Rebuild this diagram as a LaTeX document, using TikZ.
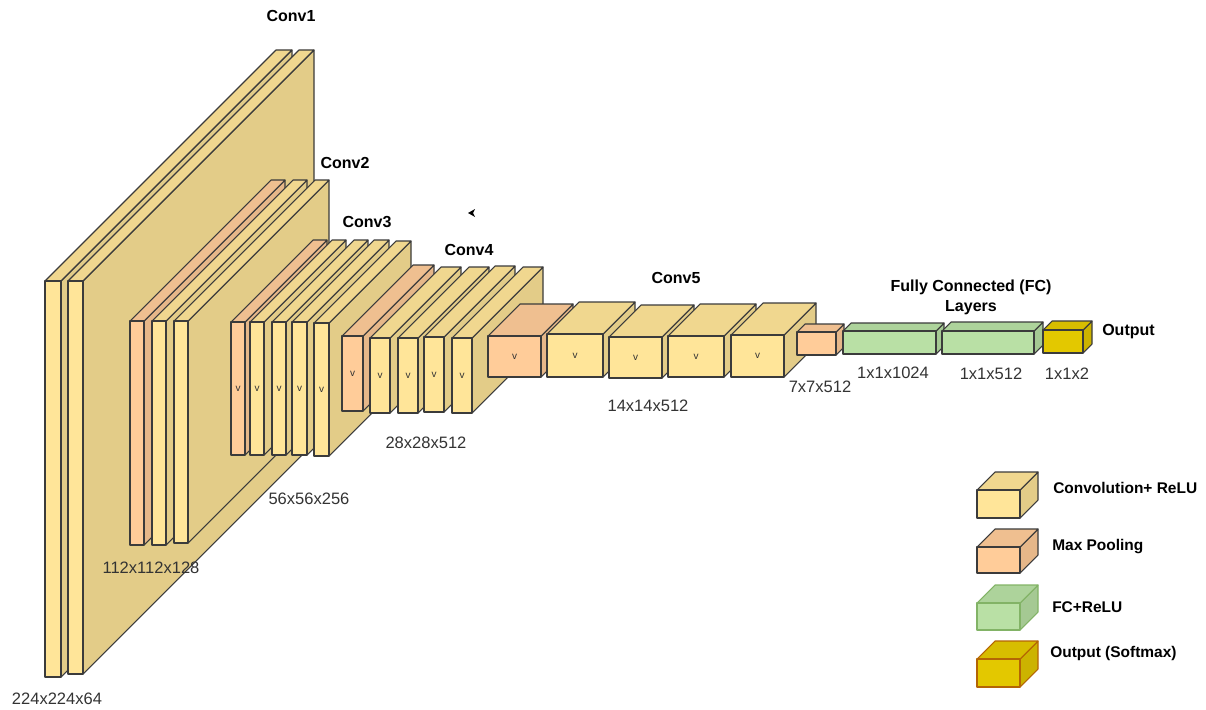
\documentclass[tikz,border=0pt]{standalone}
\usepackage{fontspec}
\setmainfont{Liberation Sans}
\usepackage{tikz}
\usetikzlibrary{positioning}
\definecolor{edge}{HTML}{3B3B3B}
\definecolor{cvF}{HTML}{FFE599}
\definecolor{cvT}{HTML}{F0D78F}
\definecolor{cvS}{HTML}{E3CC88}
\definecolor{mpF}{HTML}{FFCC99}
\definecolor{mpT}{HTML}{EFBF90}
\definecolor{mpS}{HTML}{E6B789}
\definecolor{fcF}{HTML}{B9E0A5}
\definecolor{fcT}{HTML}{ADD39B}
\definecolor{fcS}{HTML}{A5C993}
\definecolor{opF}{HTML}{E3C800}
\definecolor{opT}{HTML}{D7BD00}
\definecolor{opS}{HTML}{CCB300}
\definecolor{fcline}{HTML}{82B366}
\definecolor{opline}{HTML}{B46504}
\definecolor{sizetext}{HTML}{333333}

\newcommand{\layer}[8]{%
  \filldraw[face, fill=#7S] (#4,#3) -- ++(#6,-#6) -- ++(0,{#5-#3}) -- (#4,#5) -- cycle;
  \filldraw[face, fill=#7T] (#2,#3) -- ++(#6,-#6) -- ++({#4-#2},0) -- (#4,#3) -- cycle;
  \node[face, fill=#7F, minimum width={(#4-#2)*0.75pt}, minimum height={(#5-#3)*0.75pt}]
    (#1) at ({(#2+#4)/2},{(#3+#5)/2}) {#8};
}

\begin{document}
\begin{tikzpicture}[
  x=0.75pt, y=-0.75pt,
  face/.style={draw=edge, line width=0.8pt, line join=round, inner sep=0pt, outer sep=0pt,
               font=\fontsize{7.5}{9}\selectfont, text=sizetext},
  title/.style={font=\bfseries\fontsize{12}{15}\selectfont, text=black, inner sep=0pt},
  size/.style={font=\fontsize{12.4}{15}\selectfont, text=sizetext, inner sep=0pt},
  legtext/.style={font=\bfseries\fontsize{11.6}{14}\selectfont, text=black, anchor=west, inner sep=0pt}
]
  \useasboundingbox (0,0) rectangle (1206,710);

  \layer{c1a}{45}{281}{61}{677}{231}{cv}{}
  \layer{c1b}{68}{281}{83}{674}{231}{cv}{}

  \layer{p1}{130}{321}{144}{545}{141}{mp}{}
  \layer{c2a}{152}{321}{166}{545}{141}{cv}{}
  \layer{c2b}{174}{321}{188}{543}{141}{cv}{}

  \layer{p2}{231}{322}{245}{455}{82}{mp}{v}
  \layer{c3a}{250}{322}{264}{455}{82}{cv}{v}
  \layer{c3b}{272}{322}{286}{455}{82}{cv}{v}
  \layer{c3c}{292}{322}{307}{455}{82}{cv}{v}
  \layer{c3d}{314}{323}{329}{456}{82}{cv}{v}

  \layer{p3}{342}{336}{363}{411}{71}{mp}{v}
  \layer{c4a}{370}{338}{390}{413}{71}{cv}{v}
  \layer{c4b}{398}{338}{418}{413}{71}{cv}{v}
  \layer{c4c}{424}{337}{444}{412}{71}{cv}{v}
  \layer{c4d}{452}{338}{472}{413}{71}{cv}{v}

  \layer{p4}{488}{336}{541}{377}{32}{mp}{v}
  \layer{c5a}{547}{334}{603}{377}{32}{cv}{v}
  \layer{c5b}{609}{337}{662}{378}{32}{cv}{v}
  \layer{c5c}{668}{336}{724}{377}{32}{cv}{v}
  \layer{c5d}{731}{335}{784}{377}{32}{cv}{v}

  \layer{p5}{797}{332}{836}{355}{8}{mp}{}
  \layer{fc1}{843}{331}{936}{354}{8}{fc}{}
  \layer{fc2}{942}{331}{1034}{354}{9}{fc}{}
  \layer{out}{1043}{330}{1083}{353}{9}{op}{}

  \node[title] (t1) at (291,16) {Conv1};
  \node[title] (t2) at (345,163) {Conv2};
  \node[title] (t3) at (367,222) {Conv3};
  \node[title] (t4) at (469,250) {Conv4};
  \node[title] (t5) at (676,278) {Conv5};
  \node[title, align=center] (tfc) at (971,297) {Fully Connected (FC)\\Layers};
  \node[title, anchor=west] (tout) at (1102,332) {Output};

  \node[size] (s1) at (57,699) {224x224x64};
  \node[size] (s2) at (151,568) {112x112x128};
  \node[size] (s3) at (309,499) {56x56x256};
  \node[size] (s4) at (426,443) {28x28x512};
  \node[size] (s5) at (648,406) {14x14x512};
  \node[size] (s6) at (820,387) {7x7x512};
  \node[size] (s7) at (893,373) {1x1x1024};
  \node[size] (s8) at (991,374) {1x1x512};
  \node[size] (s9) at (1067,374) {1x1x2};

  \fill[black] (468,213) -- (475,209) -- (473,213) -- (475,217) -- cycle;

  \layer{lg1}{977}{490}{1020}{518}{18}{cv}{}
  \layer{lg2}{977}{547}{1020}{573}{18}{mp}{}
  \begin{scope}[face/.append style={draw=fcline}]
    \layer{lg3}{977}{603}{1020}{630}{18}{fc}{}
  \end{scope}
  \begin{scope}[face/.append style={draw=opline}]
    \layer{lg4}{977}{659}{1020}{687}{18}{op}{}
  \end{scope}
  \node[legtext] (l1) at (1053,488) {Convolution+ ReLU};
  \node[legtext] (l2) at (1052,547) {Max Pooling};
  \node[legtext] (l3) at (1052,607) {FC+ReLU};
  \node[legtext] (l4) at (1050,653) {Output (Softmax)};
\end{tikzpicture}
\end{document}
